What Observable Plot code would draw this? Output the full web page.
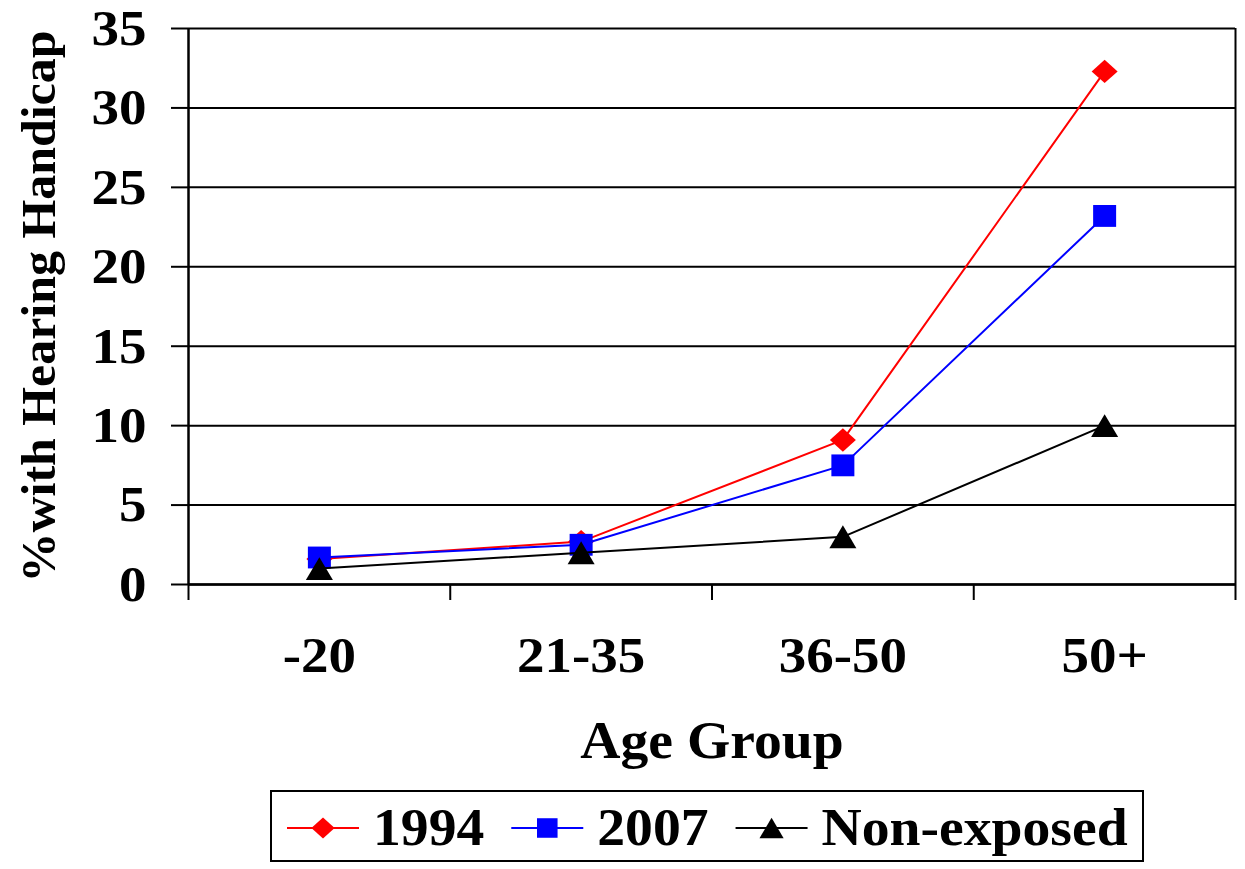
<!DOCTYPE html>
<html><head><meta charset="utf-8">
<script src="https://cdn.jsdelivr.net/npm/d3@7"></script>
<script src="https://cdn.jsdelivr.net/npm/@observablehq/plot@0.6"></script>
<style>
html,body{margin:0;padding:0;background:#fff;}
#chart{width:1245px;}
svg{display:block;}
</style></head><body><div id="chart"></div>
<script>
// ---- data ----
const categories = ["-20", "21-35", "36-50", "50+"];
const values1994 = [1.6, 2.7, 9.1, 32.3];
const values2007 = [1.7, 2.5, 7.5, 23.2];
const valuesNonExposed = [1.0, 2.0, 3.0, 10.0];
const seriesNames = ["1994", "2007", "Non-exposed"];
const yTicks = [0, 5, 10, 15, 20, 25, 30, 35];
const xTitle = "Age Group";
const yTitle = "%with Hearing Handicap";

// ---- styles ----
const seriesColors = ["#ff0000", "#0000ff", "#000000"];
const FONT = "'Liberation Serif', 'Times New Roman', Times, serif";
const diamond = {draw(ctx, size) { const h = Math.sqrt(size / Math.PI), v = h * 0.9; ctx.moveTo(0, -v); ctx.lineTo(h, 0); ctx.lineTo(0, v); ctx.lineTo(-h, 0); ctx.closePath(); }};
const square = {draw(ctx, size) { const h = Math.sqrt(size / Math.PI), v = h * 0.95; ctx.moveTo(-h, -v); ctx.lineTo(h, -v); ctx.lineTo(h, v); ctx.lineTo(-h, v); ctx.closePath(); }};
const triangle = {draw(ctx, size) { const h = Math.sqrt(size / Math.PI), v = h * 0.85; ctx.moveTo(0, -v); ctx.lineTo(h, v); ctx.lineTo(-h, v); ctx.closePath(); }};
const seriesSymbols = [diamond, square, triangle];
const seriesR = [13, 11.5, 13.5];

const seriesValues = [values1994, values2007, valuesNonExposed];
const rows = seriesNames.flatMap((name, s) =>
  categories.map((c, i) => ({series: name, group: c, pos: i + 0.5, value: seriesValues[s][i]})));
const boundaries = d3.range(categories.length + 1);
const centers = categories.map((c, i) => i + 0.5);

const seriesMarks = seriesNames.flatMap((name, s) => {
  const d = rows.filter(r => r.series === name);
  return [
    Plot.line(d, {x: "pos", y: "value", stroke: seriesColors[s], strokeWidth: 2}),
    Plot.dot(d, {x: "pos", y: "value", symbol: seriesSymbols[s], r: seriesR[s], fill: seriesColors[s], stroke: "none"})
  ];
});

const chart = Plot.plot({
  width: 1245, height: 780,
  marginLeft: 188, marginRight: 10, marginTop: 28, marginBottom: 196,
  x: {type: "linear", domain: [0, categories.length], label: null, axis: null},
  y: {domain: [0, 35], label: null, axis: null},
  style: {fontFamily: FONT, fontWeight: "bold", color: "black", background: "white", overflow: "visible"},
  marks: [
    Plot.gridY(yTicks, {stroke: "black", strokeOpacity: 1, strokeWidth: 2}),
    Plot.ruleX([0], {stroke: "black", strokeWidth: 2.5}),
    Plot.ruleX([categories.length], {stroke: "black", strokeWidth: 2}),
    Plot.ruleY([0], {stroke: "black", strokeWidth: 2.5}),
    Plot.axisY(yTicks, {tickSize: 17, tickPadding: 25, fontSize: 51, stroke: "black", strokeWidth: 2, label: null}),
    Plot.axisX(boundaries, {tickSize: 16, tickFormat: () => "", stroke: "black", strokeWidth: 2, label: null}),
    Plot.axisX(centers, {tickSize: 0, tickPadding: 52, fontSize: 50, tickFormat: d => categories[Math.floor(d)], label: null}),
    Plot.text([xTitle], {text: d => d, frameAnchor: "bottom", textAnchor: "middle", lineAnchor: "bottom", dy: 173, fontSize: 53}),
    Plot.text([yTitle], {text: d => d, frameAnchor: "left", textAnchor: "middle", rotate: -90, lineAnchor: "middle", dx: -149, dy: 0, fontSize: 48}),
    ...seriesMarks
  ]
});
const host = document.getElementById("chart");
host.appendChild(chart);

function stretchText(root, table) {
  root.querySelectorAll("text").forEach(t => {
    if (!t.textContent) return;
    const fs = Math.round(parseFloat(getComputedStyle(t).fontSize));
    const k = table[fs];
    if (!k) return;
    const w = t.getComputedTextLength();
    t.setAttribute("textLength", (w * k).toFixed(1));
    t.setAttribute("lengthAdjust", "spacingAndGlyphs");
  });
}
stretchText(chart, {48: 1.04, 50: 1.1, 51: 1.08, 53: 1.05});

// ---- legend ----
const leg = d3.create("svg").attr("width", 1245).attr("height", 89)
  .style("font-family", FONT).style("font-weight", "bold");
host.appendChild(leg.node());
leg.append("rect").attr("x", 271).attr("y", 11).attr("width", 872).attr("height", 70)
  .attr("fill", "white").attr("stroke", "black").attr("stroke-width", 2);
let lx = 287;
seriesNames.forEach((name, s) => {
  const g = leg.append("g");
  g.append("line").attr("x1", lx).attr("x2", lx + 72).attr("y1", 48).attr("y2", 48)
    .attr("stroke", seriesColors[s]).attr("stroke-width", 2);
  g.append("path").attr("transform", `translate(${lx + 36},48)`)
    .attr("d", d3.symbol(seriesSymbols[s], Math.PI * seriesR[s] * seriesR[s] * 0.8)())
    .attr("fill", seriesColors[s]);
  const t = g.append("text").attr("x", lx + 86).attr("y", 65).attr("font-size", 52).attr("fill", "black").text(name);
  const w = t.node().getComputedTextLength() * 1.07;
  t.attr("textLength", w.toFixed(1)).attr("lengthAdjust", "spacingAndGlyphs");
  lx = lx + 86 + w + 27;
});
</script></body></html>
